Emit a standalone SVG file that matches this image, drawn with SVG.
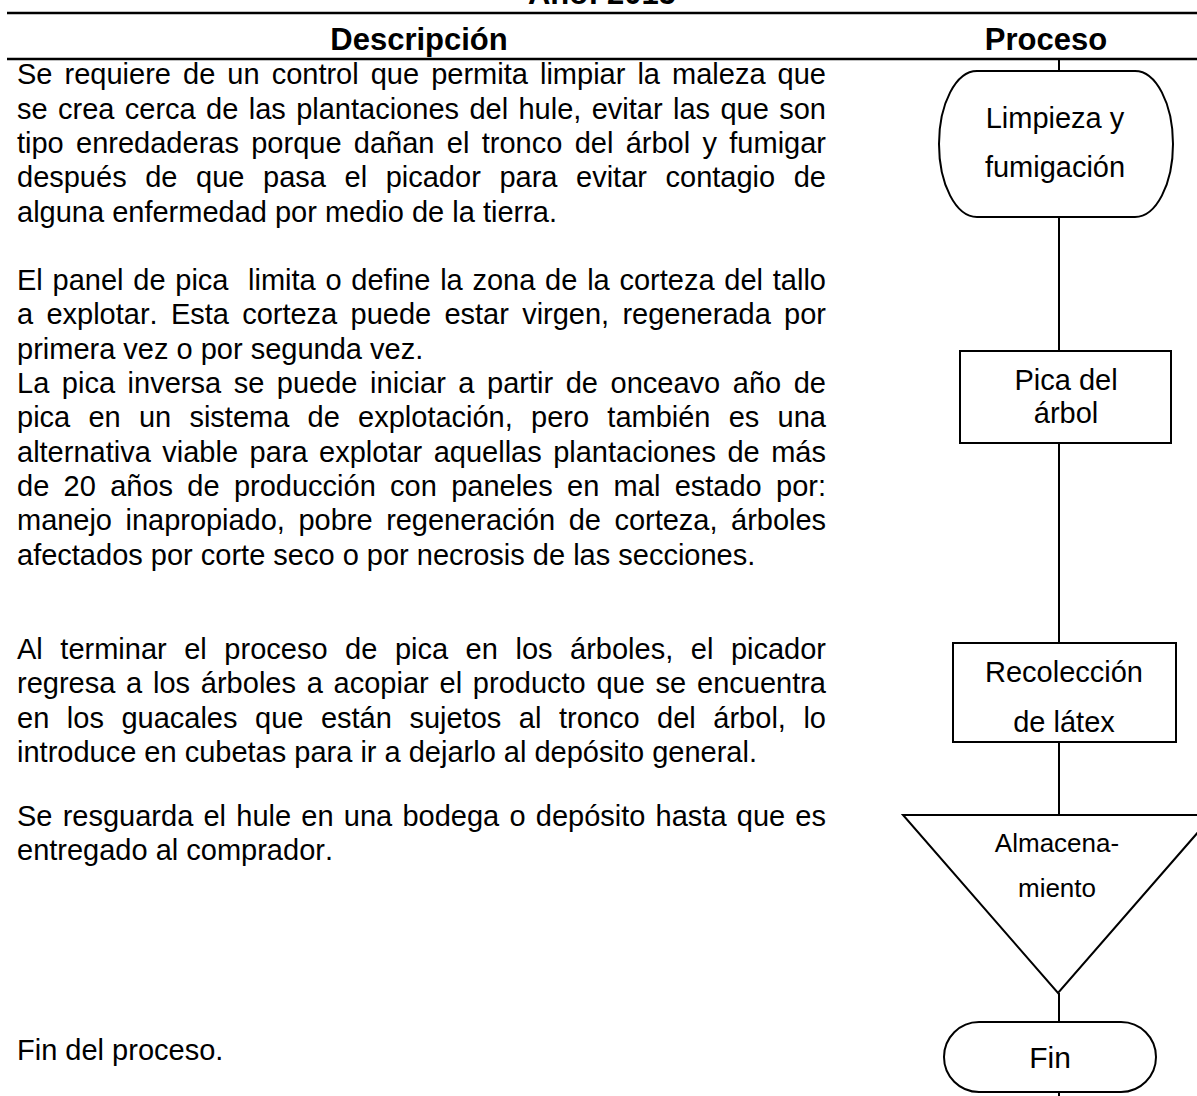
<svg xmlns="http://www.w3.org/2000/svg" width="1197" height="1096" viewBox="0 0 1197 1096">
<style>
text{font-family:"Liberation Sans",Arial,sans-serif;fill:#000;font-kerning:none}
.h{font-size:31px;font-weight:bold;text-anchor:middle}
.b{font-size:29px}
.n{font-size:29px;text-anchor:middle}
.s{fill:#fff;stroke:#000;stroke-width:2}
.c line{stroke:#000;stroke-width:2}
.rule{stroke:#000;stroke-width:2.5}
</style>
<rect width="1197" height="1096" fill="#fff"/>
<g id="header">
<text class="h" x="602" y="4">Año: 2015</text>
<line class="rule" x1="7" y1="13" x2="1197" y2="13"/>
<text class="h" x="419" y="50">Descripción</text>
<text class="h" x="1046" y="50">Proceso</text>
<line class="rule" x1="7" y1="59" x2="1197" y2="59"/>
</g>
<g id="descripcion" class="b">
<text class="b" x="17" y="84.3" word-spacing="4.02" textLength="809" lengthAdjust="spacing">Se requiere de un control que permita limpiar la maleza que</text>
<text class="b" x="17" y="118.6" word-spacing="2.33" textLength="809" lengthAdjust="spacing">se crea cerca de las plantaciones del hule, evitar las que son</text>
<text class="b" x="17" y="152.9" word-spacing="4.28" textLength="809" lengthAdjust="spacing">tipo enredaderas porque dañan el tronco del árbol y fumigar</text>
<text class="b" x="17" y="187.2" word-spacing="10.54" textLength="809" lengthAdjust="spacing">después de que pasa el picador para evitar contagio de</text>
<text class="b" x="17" y="221.5">alguna enfermedad por medio de la tierra.</text>
<text class="b" x="17" y="290.1" word-spacing="1.71" textLength="809" lengthAdjust="spacing" style="white-space:pre">El panel de pica  limita o define la zona de la corteza del tallo</text>
<text class="b" x="17" y="324.4" word-spacing="5.21" textLength="809" lengthAdjust="spacing">a explotar. Esta corteza puede estar virgen, regenerada por</text>
<text class="b" x="17" y="358.7">primera vez o por segunda vez.</text>
<text class="b" x="17" y="393" word-spacing="4.53" textLength="809" lengthAdjust="spacing">La pica inversa se puede iniciar a partir de onceavo año de</text>
<text class="b" x="17" y="427.3" word-spacing="10.19" textLength="809" lengthAdjust="spacing">pica en un sistema de explotación, pero también es una</text>
<text class="b" x="17" y="461.6" word-spacing="3.43" textLength="809" lengthAdjust="spacing">alternativa viable para explotar aquellas plantaciones de más</text>
<text class="b" x="17" y="495.9" word-spacing="6.26" textLength="809" lengthAdjust="spacing">de 20 años de producción con paneles en mal estado por:</text>
<text class="b" x="17" y="530.2" word-spacing="5.62" textLength="809" lengthAdjust="spacing">manejo inapropiado, pobre regeneración de corteza, árboles</text>
<text class="b" x="17" y="564.5">afectados por corte seco o por necrosis de las secciones.</text>
<text class="b" x="17" y="659" word-spacing="9.5" textLength="809" lengthAdjust="spacing">Al terminar el proceso de pica en los árboles, el picador</text>
<text class="b" x="17" y="693.3" word-spacing="2.72" textLength="809" lengthAdjust="spacing">regresa a los árboles a acopiar el producto que se encuentra</text>
<text class="b" x="17" y="727.6" word-spacing="9.49" textLength="809" lengthAdjust="spacing">en los guacales que están sujetos al tronco del árbol, lo</text>
<text class="b" x="17" y="761.9">introduce en cubetas para ir a dejarlo al depósito general.</text>
<text class="b" x="17" y="826" word-spacing="2.17" textLength="809" lengthAdjust="spacing">Se resguarda el hule en una bodega o depósito hasta que es</text>
<text class="b" x="17" y="860.3">entregado al comprador.</text>
<text class="b" x="17" y="1060">Fin del proceso.</text>
</g>
<g id="connectors" class="c">
<line x1="1059" y1="59" x2="1059" y2="71"/>
<line x1="1059" y1="217" x2="1059" y2="351"/>
<line x1="1059" y1="443" x2="1059" y2="643"/>
<line x1="1059" y1="742" x2="1059" y2="815"/>
<line x1="1059" y1="993" x2="1059" y2="1022"/>
<line x1="1059" y1="1092" x2="1059" y2="1096"/>
</g>
<g id="limpieza">
<rect class="s" x="939" y="71" width="234" height="146" rx="38" ry="73"/>
<text class="n" x="1055" y="128">Limpieza y</text>
<text class="n" x="1055" y="177">fumigación</text>
</g>
<g id="pica">
<rect class="s" x="960" y="351" width="211" height="92"/>
<text class="n" x="1066" y="390">Pica del</text>
<text class="n" x="1066" y="423">árbol</text>
</g>
<g id="recoleccion">
<rect class="s" x="953" y="643" width="223" height="99"/>
<text class="n" x="1064" y="682">Recolección</text>
<text class="n" x="1064" y="732">de látex</text>
</g>
<g id="almacenamiento">
<polygon class="s" points="903,815 1213,815 1058,993"/>
<text class="n" x="1057" y="852" style="font-size:26px">Almacena-</text>
<text class="n" x="1057" y="897" style="font-size:26px">miento</text>
</g>
<g id="fin">
<rect class="s" x="944" y="1022" width="212" height="70" rx="35" ry="35"/>
<text class="n" x="1050" y="1068" style="font-size:30px">Fin</text>
</g>
</svg>
